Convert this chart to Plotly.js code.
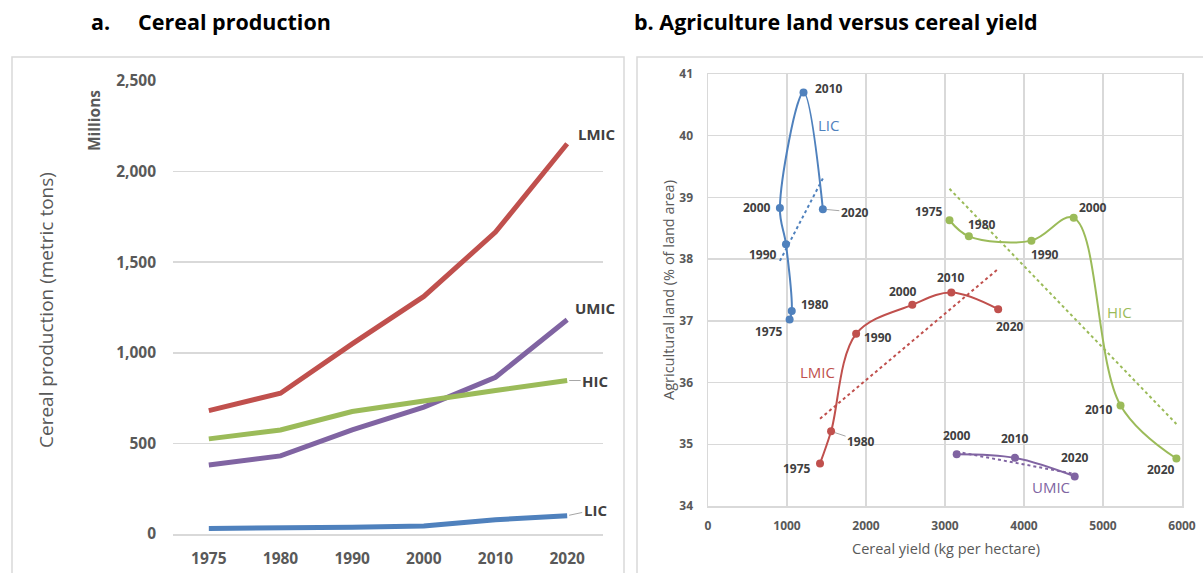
<!DOCTYPE html>
<html><head><meta charset="utf-8">
<script src="https://cdn.plot.ly/plotly-3.0.1.min.js"></script>
<style>html,body{margin:0;padding:0;background:#fff;}#chart{width:1203px;height:573px;}</style>
</head><body><div id="chart"></div>
<script>
// ---------- Panel a: Cereal production (millions of metric tons) ----------
const years = ['1975', '1980', '1990', '2000', '2010', '2020'];
const prodLMIC = [681, 777, 1049, 1311, 1666, 2154];
const prodUMIC = [381, 431, 574, 700, 865, 1182];
const prodHIC = [525, 574, 676, 736, 792, 847];
const prodLIC = [31, 33, 37, 44, 79, 101];
const yTicksA = [0, 500, 1000, 1500, 2000, 2500];

// ---------- Panel b: Agricultural land vs cereal yield ----------
const yearsB = [1975, 1980, 1990, 2000, 2010, 2020];
const yieldLIC = [1033, 1060, 987, 910, 1209, 1454];
const landLIC = [37.02, 37.16, 38.24, 38.83, 40.70, 38.81];
const yieldLMIC = [1418, 1558, 1875, 2586, 3080, 3673];
const landLMIC = [34.69, 35.21, 36.79, 37.26, 37.46, 37.19];
const yieldHIC = [3057, 3302, 4094, 4629, 5222, 5929];
const landHIC = [38.63, 38.37, 38.30, 38.67, 35.63, 34.77];
const yearsUMIC = [2000, 2010, 2020];
const yieldUMIC = [3148, 3886, 4642];
const landUMIC = [34.84, 34.78, 34.48];
const xTicksB = [0, 1000, 2000, 3000, 4000, 5000, 6000];
const yTicksB = [34, 35, 36, 37, 38, 39, 40, 41];

const C = {LIC: '#4F81BD', LMIC: '#C0504D', HIC: '#9BBB59', UMIC: '#8064A2'};
const FONT = 'Open Sans, Noto Sans, sans-serif';
const GRID = '#d9d9d9';
const W = 1203, H = 573;
const px = v => v / W, py = v => 1 - v / H;

function regress(xs, ys) {
  const n = xs.length;
  const mx = xs.reduce((a, b) => a + b, 0) / n;
  const my = ys.reduce((a, b) => a + b, 0) / n;
  let sxy = 0, sxx = 0;
  for (let i = 0; i < n; i++) { sxy += (xs[i] - mx) * (ys[i] - my); sxx += (xs[i] - mx) ** 2; }
  const b = sxy / sxx, a = my - b * mx;
  const x0 = Math.min(...xs), x1 = Math.max(...xs);
  return {x: [x0, x1], y: [a + b * x0, a + b * x1]};
}

const traces = [];
// panel a lines
[['LMIC', prodLMIC], ['UMIC', prodUMIC], ['HIC', prodHIC], ['LIC', prodLIC]].forEach(([k, v]) => {
  traces.push({x: years, y: v, type: 'scatter', mode: 'lines', xaxis: 'x', yaxis: 'y',
    line: {color: C[k], width: 5}, hoverinfo: 'skip', showlegend: false});
});
// panel b
const seriesB = [
  ['LIC', yieldLIC, landLIC, yearsB],
  ['LMIC', yieldLMIC, landLMIC, yearsB],
  ['HIC', yieldHIC, landHIC, yearsB],
  ['UMIC', yieldUMIC, landUMIC, yearsUMIC]
];
seriesB.forEach(([k, xs, ys]) => {
  const t = regress(xs, ys);
  traces.push({x: t.x, y: t.y, type: 'scatter', mode: 'lines', xaxis: 'x2', yaxis: 'y2',
    line: {color: C[k], width: 2, dash: 'dot'}, hoverinfo: 'skip', showlegend: false});
});
seriesB.forEach(([k, xs, ys]) => {
  traces.push({x: xs, y: ys, type: 'scatter', mode: 'lines+markers', xaxis: 'x2', yaxis: 'y2',
    line: {color: C[k], width: 2, shape: 'spline', smoothing: 1},
    marker: {color: C[k], size: 8}, hoverinfo: 'skip', showlegend: false});
});

const annotations = [];
const A = o => annotations.push(Object.assign({xanchor: 'center', yanchor: 'middle', showarrow: false}, o));
// titles
A({xref: 'paper', yref: 'paper', x: px(89), y: py(22), xanchor: 'left',
  text: 'a.&nbsp;&nbsp;&nbsp;&nbsp;&nbsp;Cereal production', font: {family: FONT, size: 21.5, color: '#000', weight: 'bold'}});
A({xref: 'paper', yref: 'paper', x: px(632), y: py(22), xanchor: 'left',
  text: 'b. Agriculture land versus cereal yield', font: {family: FONT, size: 21.5, color: '#000', weight: 'bold'}});
// panel a axis titles
A({xref: 'paper', yref: 'paper', x: px(46), y: py(310), textangle: -90,
  text: 'Cereal production (metric tons)', font: {family: FONT, size: 19, color: '#595959'}});
A({xref: 'paper', yref: 'paper', x: px(94), y: py(121), textangle: -90,
  text: 'Millions', font: {family: FONT, size: 15.5, color: '#595959', weight: 'bold'}});
// panel a series labels (category index of the last year)
const last = years.length - 1;
const labA = {family: FONT, size: 15, color: '#404040', weight: 'bold'};
A({x: last, y: prodLMIC[last], xref: 'x', yref: 'y', xanchor: 'left', xshift: 9, yshift: 10, text: 'LMIC', font: labA});
A({x: last, y: prodUMIC[last], xref: 'x', yref: 'y', xanchor: 'left', xshift: 6, yshift: 12, text: 'UMIC', font: labA});
A({x: last, y: prodHIC[last], xref: 'x', yref: 'y', showarrow: true, arrowhead: 0, arrowwidth: 1, arrowcolor: '#a6a6a6', ax: 28, ay: 0, standoff: 2, text: 'HIC', font: labA});
A({x: last, y: prodLIC[last], xref: 'x', yref: 'y', showarrow: true, arrowhead: 0, arrowwidth: 1, arrowcolor: '#a6a6a6', ax: 28, ay: -6, standoff: 2, text: 'LIC', font: labA});
// panel b axis titles
A({xref: 'paper', yref: 'paper', x: px(946), y: py(548),
  text: 'Cereal yield (kg per hectare)', font: {family: FONT, size: 14.5, color: '#595959'}});
A({xref: 'paper', yref: 'paper', x: px(668), y: py(290), textangle: -90,
  text: 'Agricultural land (% of land area)', font: {family: FONT, size: 14.5, color: '#595959'}});
// panel b point labels: [xanchor, xshift, yshift]; 'leader' = [.., ax, ay]
const labB = {family: FONT, size: 12, color: '#404040', weight: 'bold'};
const labelStyle = {
  LIC: [['right', -5, -12], ['left', 7, 6], ['right', -7, -10], ['right', -7, 0], ['left', 9, 4], ['leader', 32, 3]],
  LMIC: [['right', -7, -5], ['leader', 30, 10], ['left', 6, -4], ['center', -9, 13], ['center', 0, 15], ['center', 12, -17]],
  HIC: [['right', -5, 9], ['center', 13, 12], ['center', 14, -14], ['center', 19, 10], ['right', -6, -4], ['center', -15, -11]],
  UMIC: [['center', 0, 19], ['center', 0, 19], ['center', 0, 19]]
};
seriesB.forEach(([k, xs, ys, yrs]) => {
  yrs.forEach((yr, i) => {
    const s = labelStyle[k][i];
    if (s[0] === 'leader') {
      A({x: xs[i], y: ys[i], xref: 'x2', yref: 'y2', text: String(yr), font: labB,
        showarrow: true, arrowhead: 0, arrowwidth: 1, arrowcolor: '#a6a6a6', ax: s[1], ay: s[2], standoff: 4});
    } else {
      A({x: xs[i], y: ys[i], xref: 'x2', yref: 'y2', text: String(yr), font: labB,
        xanchor: s[0], xshift: s[1], yshift: s[2]});
    }
  });
});
// panel b series names
const nameB = [['LIC', 1531, 40.17], ['LMIC', 1381, 36.17], ['HIC', 5213, 37.14], ['UMIC', 4348, 34.31]];
nameB.forEach(([k, x, y]) => {
  A({x: x, y: y, xref: 'x2', yref: 'y2', text: k, font: {family: FONT, size: 15, color: C[k]}});
});

const shapes = [
  {type: 'rect', xref: 'paper', yref: 'paper', x0: px(12), x1: px(624), y0: py(590), y1: py(57), line: {color: '#d9d9d9', width: 1.5}},
  {type: 'rect', xref: 'paper', yref: 'paper', x0: px(637), x1: px(1220), y0: py(590), y1: py(57), line: {color: '#d9d9d9', width: 1.5}}
];

const layout = {
  width: W, height: H, margin: {l: 0, r: 0, t: 0, b: 0},
  paper_bgcolor: '#fff', plot_bgcolor: 'rgba(0,0,0,0)', showlegend: false,
  font: {family: FONT},
  xaxis: {domain: [px(173), px(603)], type: 'category', range: [-0.5, 5.5], showgrid: false,
    showline: true, linecolor: GRID, linewidth: 1.5, ticks: '', zeroline: false,
    tickfont: {family: FONT, size: 15.5, color: '#595959', weight: 'bold'}, ticklabelstandoff: 10, fixedrange: true},
  yaxis: {domain: [1 - 534 / H, 1 - 81 / H], range: [0, 2500], tickvals: yTicksA, tickformat: ',d',
    showgrid: true, gridcolor: GRID, gridwidth: 1.5, zeroline: false, showline: false, ticks: '',
    tickfont: {family: FONT, size: 15.5, color: '#595959', weight: 'bold'}, ticklabelstandoff: 16, fixedrange: true},
  xaxis2: {domain: [px(708), px(1182)], range: [0, 6000], tickvals: xTicksB, anchor: 'y2',
    showgrid: true, gridcolor: GRID, gridwidth: 1.5, zeroline: false, showline: true, mirror: true,
    linecolor: GRID, linewidth: 1.5, ticks: '',
    tickfont: {family: FONT, size: 12, color: '#595959', weight: 'bold'}, ticklabelstandoff: 8, fixedrange: true},
  yaxis2: {domain: [1 - 506 / H, 1 - 74 / H], range: [34, 41], tickvals: yTicksB, anchor: 'x2',
    showgrid: true, gridcolor: GRID, gridwidth: 1.5, zeroline: false, showline: true, mirror: true,
    linecolor: GRID, linewidth: 1.5, ticks: '',
    tickfont: {family: FONT, size: 12, color: '#595959', weight: 'bold'}, ticklabelstandoff: 11, fixedrange: true},
  annotations: annotations, shapes: shapes
};

Plotly.newPlot('chart', traces, layout, {displayModeBar: false, staticPlot: true});
</script>
</body></html>
